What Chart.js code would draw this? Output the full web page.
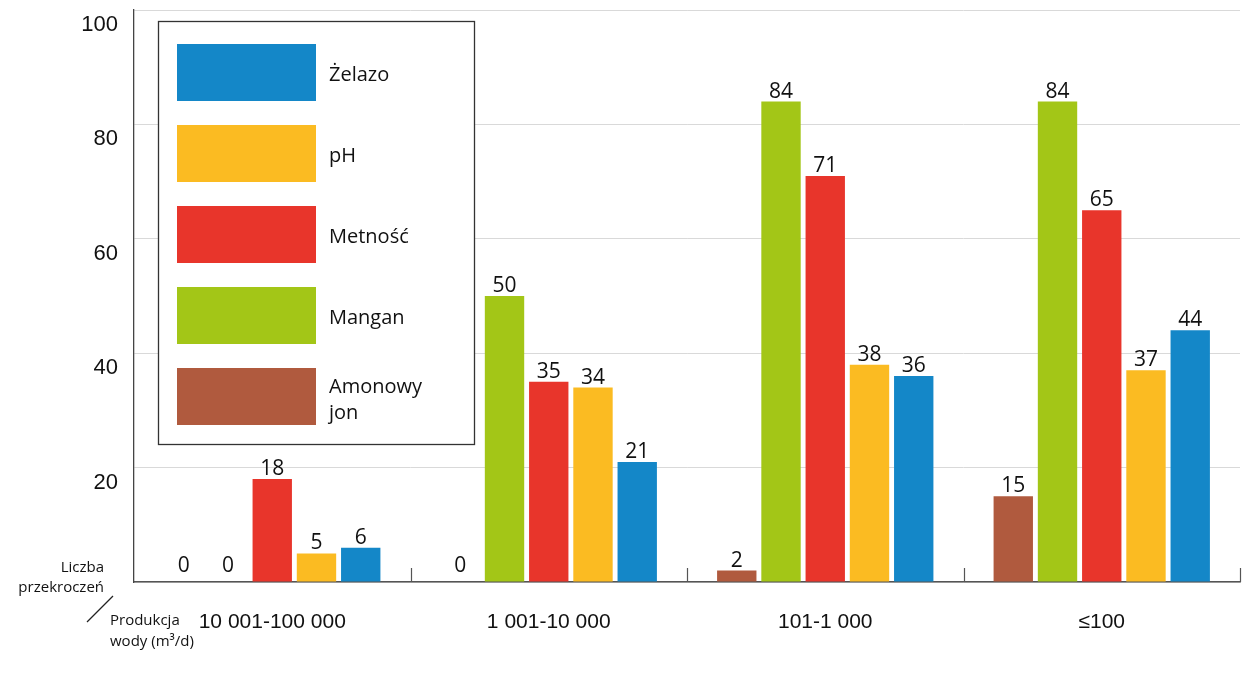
<!DOCTYPE html>
<html>
<head>
<meta charset="utf-8">
<script src="https://cdn.jsdelivr.net/npm/chart.js@4"></script>
<style>
  html, body { margin: 0; padding: 0; background: #ffffff; }
  #wrap { width: 1256px; height: 674px; position: relative; }
</style>
</head>
<body>
<div id="wrap"><canvas id="c" width="1256" height="674"></canvas></div>
<script>
const categories = ['10 001-100 000', '1 001-10 000', '101-1 000', '≤100'];
const seriesNames = ['Amonowy jon', 'Mangan', 'Metność', 'pH', 'Żelazo'];
const amonowyJon = [0, 0, 2, 15];
const mangan = [0, 50, 84, 84];
const metnosc = [18, 35, 71, 65];
const ph = [5, 34, 38, 37];
const zelazo = [6, 21, 36, 44];
const yTicks = [0, 20, 40, 60, 80, 100];

const colors = ['#b05a3e', '#a3c617', '#e8352b', '#fbbb22', '#1487c8'];
const seriesData = [amonowyJon, mangan, metnosc, ph, zelazo];

const datasets = seriesNames.map((n, i) => ({
  label: n,
  data: seriesData[i],
  backgroundColor: colors[i],
  borderWidth: 0,
  categoryPercentage: 0.8,
  barPercentage: 0.89
}));

const LABEL_FONT = '"Open Sans", "Noto Sans", sans-serif';

const decorPlugin = {
  id: 'decor',
  afterDatasetsDraw(chart) {
    const ctx = chart.ctx;
    ctx.save();
    ctx.fillStyle = '#111';
    ctx.font = '21px ' + LABEL_FONT;
    ctx.textAlign = 'center';
    ctx.textBaseline = 'alphabetic';
    chart.data.datasets.forEach((ds, di) => {
      const meta = chart.getDatasetMeta(di);
      meta.data.forEach((bar, i) => {
        const v = ds.data[i];
        const off = v === 0 ? 10 : 4;
        ctx.fillText(String(v), bar.x, bar.y - off);
      });
    });
    ctx.restore();
  },
  afterDraw(chart) {
    const ctx = chart.ctx;
    const xs = chart.scales.x;
    const area = chart.chartArea;
    ctx.save();
    ctx.strokeStyle = '#555';
    ctx.lineWidth = 1.2;
    for (let i = 1; i <= categories.length; i++) {
      let x;
      if (i < categories.length) {
        x = (xs.getPixelForValue(i - 1) + xs.getPixelForValue(i)) / 2;
      } else {
        x = area.right;
      }
      x = Math.round(x) + 0.5;
      ctx.beginPath();
      ctx.moveTo(x, area.bottom);
      ctx.lineTo(x, area.bottom - 14);
      ctx.stroke();
    }
    ctx.restore();

    // legend box
    ctx.save();
    ctx.fillStyle = '#ffffff';
    ctx.fillRect(158, 21, 317, 424);
    ctx.strokeStyle = '#333';
    ctx.lineWidth = 1.3;
    ctx.strokeRect(158.5, 21.5, 316, 423);
    const order = [4, 3, 2, 1, 0];
    ctx.font = '20px ' + LABEL_FONT;
    ctx.textAlign = 'left';
    ctx.textBaseline = 'middle';
    order.forEach((di, k) => {
      const y = 44 + k * 81;
      ctx.fillStyle = chart.data.datasets[di].backgroundColor;
      ctx.fillRect(177, y, 139, 57);
      ctx.fillStyle = '#111';
      const words = chart.data.datasets[di].label;
      if (words === 'Amonowy jon') {
        ctx.fillText('Amonowy', 329, y + 19);
        ctx.fillText('jon', 329, y + 45);
      } else {
        ctx.fillText(words, 329, y + 31);
      }
    });
    ctx.restore();

    // bottom-left axis captions
    ctx.save();
    ctx.fillStyle = '#111';
    ctx.font = '15px ' + LABEL_FONT;
    ctx.textBaseline = 'alphabetic';
    ctx.textAlign = 'right';
    ctx.fillText('Liczba', 104, 572);
    ctx.fillText('przekroczeń', 104, 592);
    ctx.textAlign = 'left';
    ctx.fillText('Produkcja', 110, 625);
    ctx.fillText('wody (m³/d)', 110, 646);
    ctx.strokeStyle = '#222';
    ctx.lineWidth = 1.3;
    ctx.beginPath();
    ctx.moveTo(87, 622);
    ctx.lineTo(113, 596);
    ctx.stroke();
    ctx.restore();
  }
};

new Chart(document.getElementById('c'), {
  type: 'bar',
  data: { labels: categories, datasets: datasets },
  options: {
    responsive: false,
    animation: false,
    layout: { padding: { left: 0, right: 16, top: 10, bottom: 0 } },
    plugins: { legend: { display: false }, tooltip: { enabled: false } },
    scales: {
      x: {
        grid: { display: true, drawOnChartArea: false, drawTicks: false },
        border: { display: true, color: '#555', width: 1.5 },
        ticks: {
          padding: 28,
          color: '#111',
          font: { family: '"Liberation Sans", Arial, sans-serif', size: 21 }
        },
        afterFit(scale) { scale.height = 92; scale.paddingLeft = 0; scale.paddingRight = 0; }
      },
      y: {
        min: 0,
        max: 100,
        afterBuildTicks(scale) { scale.ticks = yTicks.map(v => ({ value: v })); },
        grid: { color: '#d9d9d9', lineWidth: 1, drawTicks: false },
        border: { display: true, color: '#444', width: 1.3 },
        ticks: {
          padding: 16,
          labelOffset: 15,
          color: '#111',
          font: { family: '"Liberation Sans", Arial, sans-serif', size: 22 },
          callback: (v) => v === 0 ? '' : String(v)
        },
        afterFit(scale) { scale.width = 134; scale.paddingTop = 0; scale.paddingBottom = 0; }
      }
    }
  },
  plugins: [decorPlugin]
});
</script>
</body>
</html>
